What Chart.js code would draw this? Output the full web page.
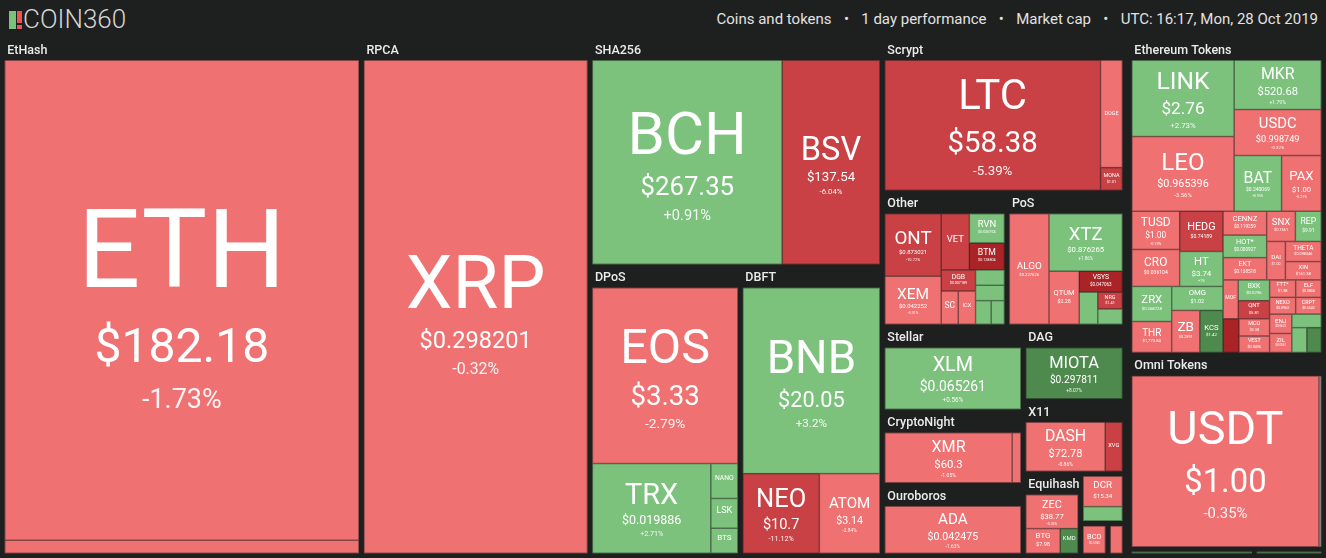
<!DOCTYPE html>
<html lang="en">
<head>
<meta charset="utf-8">
<title>COIN360 - Coins and tokens, 1 day performance</title>
<script src="https://cdn.jsdelivr.net/npm/chart.js@4.4.1/dist/chart.umd.min.js"></script>
<style>
  html, body { margin: 0; padding: 0; background: #1e1f1f; overflow: hidden; }
  body { width: 1326px; height: 558px; position: relative; font-family: Roboto, 'Noto Sans', sans-serif; }
  #topbar { position: absolute; left: 0; top: 0; width: 1326px; height: 37px; }
  .logo { position: absolute; left: 9px; top: 5px; font-size: 26px; font-weight: 300; color: #d4d4d4; line-height: 28px; white-space: nowrap; }
  .logo .bar { display: inline-block; width: 7px; height: 18px; background: #7cc27d; vertical-align: -1px; }
  .logo .bang { display: inline-block; width: 5px; height: 18px; margin: 0 1px 0 1px; vertical-align: -1px;
    background: linear-gradient(#ef5350 0, #ef5350 68%, transparent 68%, transparent 80%, #ef5350 80%); }
  .meta { position: absolute; right: 8px; top: 10px; font-size: 15px; line-height: 18px; color: #e2e2e2; white-space: nowrap; }
  .meta .sep { margin: 0 12.3px; }
  #wrap { position: absolute; left: 0; top: 37px; width: 1326px; height: 521px; }
</style>
</head>
<body>
<div id="topbar">
  <div class="logo"><span class="bar"></span><span class="bang"></span>COIN360</div>
  <div class="meta">Coins and tokens<span class="sep">•</span>1 day performance<span class="sep">•</span>Market cap<span class="sep">•</span>UTC: 16:17, Mon, 28 Oct 2019</div>
</div>
<div id="wrap"><canvas id="treemap" width="1326" height="521"></canvas></div>

<script>
// 数据: market cap in $M
const sectionNames = ['Coins', 'Tokens'];

const groupNames = ['EtHash', 'RPCA', 'SHA256', 'DPoS', 'DBFT', 'Scrypt', 'Other', 'PoS',
  'Stellar', 'CryptoNight', 'Ouroboros', 'DAG', 'X11', 'Equihash', 'Blake256', 'X13', 'Lyra2REv3',
  'Ethereum Tokens', 'Omni Tokens', 'TRON Tokens', 'Binance Chain Tokens'];
const groupSection = ['Coins', 'Coins', 'Coins', 'Coins', 'Coins', 'Coins', 'Coins', 'Coins',
  'Coins', 'Coins', 'Coins', 'Coins', 'Coins', 'Coins', 'Coins', 'Coins', 'Coins',
  'Tokens', 'Tokens', 'Tokens', 'Tokens'];

const coinSymbols = [
  'ETH', 'ETC',
  'XRP',
  'BCH', 'BSV',
  'EOS', 'TRX', 'NANO', 'LSK', 'BTS',
  'BNB', 'NEO', 'ATOM',
  'LTC', 'DOGE', 'MONA',
  'ONT', 'XEM', 'VET', 'RVN', 'BTM', 'DGB', 'SC', 'ICX', '', '', '', '',
  'ALGO', 'XTZ', 'QTUM', 'VSYS', 'WAVES', 'NRG', 'ARDR',
  'XLM',
  'XMR', 'BCN',
  'ADA',
  'MIOTA',
  'DASH', 'XVG',
  'ZEC', 'BTG', 'KMD',
  'DCR', '',
  'BCD',
  '',
  'LINK', 'LEO', 'MKR', 'USDC', 'BAT', 'PAX',
  'TUSD', 'CRO', 'HEDG', 'HT', 'ZRX', 'THR', 'OMG', 'ZB', 'KCS',
  'CENNZ', 'HOT*', 'EKT', 'SNX', 'REP', 'DAI', 'THETA', 'XIN',
  'MOF', 'BXK', 'QNT', 'IOST', 'MCO', 'VEST',
  'FTT*', 'NEXO', 'ELF', 'CRPT', 'ENJ', 'ZIL', '', '', '',
  'USDT', 'MAID',
  'BTT',
  ''
];

const coinGroup = [
  'EtHash', 'EtHash',
  'RPCA',
  'SHA256', 'SHA256',
  'DPoS', 'DPoS', 'DPoS', 'DPoS', 'DPoS',
  'DBFT', 'DBFT', 'DBFT',
  'Scrypt', 'Scrypt', 'Scrypt',
  'Other', 'Other', 'Other', 'Other', 'Other', 'Other', 'Other', 'Other', 'Other', 'Other', 'Other', 'Other',
  'PoS', 'PoS', 'PoS', 'PoS', 'PoS', 'PoS', 'PoS',
  'Stellar',
  'CryptoNight', 'CryptoNight',
  'Ouroboros',
  'DAG',
  'X11', 'X11',
  'Equihash', 'Equihash', 'Equihash',
  'Blake256', 'Blake256',
  'X13',
  'Lyra2REv3',
  'Ethereum Tokens', 'Ethereum Tokens', 'Ethereum Tokens', 'Ethereum Tokens', 'Ethereum Tokens', 'Ethereum Tokens',
  'Ethereum Tokens', 'Ethereum Tokens', 'Ethereum Tokens', 'Ethereum Tokens', 'Ethereum Tokens', 'Ethereum Tokens',
  'Ethereum Tokens', 'Ethereum Tokens', 'Ethereum Tokens',
  'Ethereum Tokens', 'Ethereum Tokens', 'Ethereum Tokens', 'Ethereum Tokens', 'Ethereum Tokens', 'Ethereum Tokens',
  'Ethereum Tokens', 'Ethereum Tokens',
  'Ethereum Tokens', 'Ethereum Tokens', 'Ethereum Tokens', 'Ethereum Tokens', 'Ethereum Tokens', 'Ethereum Tokens',
  'Ethereum Tokens', 'Ethereum Tokens', 'Ethereum Tokens', 'Ethereum Tokens', 'Ethereum Tokens', 'Ethereum Tokens',
  'Ethereum Tokens', 'Ethereum Tokens', 'Ethereum Tokens',
  'Omni Tokens', 'Omni Tokens',
  'TRON Tokens',
  'Binance Chain Tokens'
];

const coinCaps = [
  19706, 534,
  12875,
  4791, 2468,
  3140, 1305, 116, 99, 83,
  3133, 750, 593,
  3688, 308, 65,
  486, 373, 218, 141, 130, 100, 78, 79, 61, 61, 51, 43,
  605, 582, 222, 125, 82, 57, 52,
  1307,
  1058, 72,
  1085,
  825,
  660, 143,
  296, 142, 74,
  163, 77,
  96,
  60,
  962, 943, 529, 494, 326, 273,
  225, 218, 215, 187, 172, 152, 152, 146, 120,
  128, 121, 120, 107, 96, 89, 89, 81,
  73, 80, 70, 66, 65, 62,
  56, 54, 55, 53, 53, 52, 49, 46, 44,
  4150, 50,
  90,
  50
];

const coinPrices = [
  '$182.18', '$4.39',
  '$0.298201',
  '$267.35', '$137.54',
  '$3.33', '$0.019886', '$0.869812', '$0.824153', '$0.030489',
  '$20.05', '$10.7', '$3.14',
  '$58.38', '$0.002681', '$1.01',
  '$0.873021', '$0.042252', '$0.004512', '$0.026974', '$0.128804', '$0.007189', '$0.00186', '$0.1673', '', '', '', '',
  '$0.227626', '$0.876265', '$2.28', '$0.047063', '$0.9188', '$1.41', '$0.0462',
  '$0.065261',
  '$60.3', '$0.000383',
  '$0.042475',
  '$0.297811',
  '$72.78', '$0.004913',
  '$38.77', '$7.98', '$0.654',
  '$15.34', '',
  '$0.5183',
  '',
  '$2.76', '$0.965396', '$520.68', '$0.998749', '$0.240069', '$1.00',
  '$1.00', '$0.036104', '$0.74189', '$3.74', '$0.268728', '$1,773.84', '$1.02', '$0.2891', '$1.42',
  '$0.119259', '$0.000927', '$0.138518', '$0.7561', '$9.91', '$1.00', '$0.098346', '$161.38',
  '$0.0892', '$0.0296', '$5.81', '$0.005483', '$3.38', '$0.0496',
  '$1.38', '$0.0963', '$0.0804', '$0.6642', '$0.0622', '$0.0061', '', '', '',
  '$1.00', '$0.1106',
  '$0.000434',
  ''
];

// 1 day change, %
const coinChanges = [
  -1.73, -1.36,
  -0.32,
  0.91, -6.04,
  -2.79, 2.71, 1.42, 0.73, 1.3,
  3.2, -11.12, -2.84,
  -5.39, -1.45, -6.2,
  -10.72, -3.31, -6.8, 2.4, -15.6, -5.83, -2.1, -3.2, 1.2, 0.8, 2.1, 0.5,
  -2.85, 1.86, -1.9, -16.2, 0.6, -7.9, 1.1,
  0.56,
  -1.05, -1.9,
  -1.63,
  8.07,
  -0.86, -6.5,
  -0.26, -1.2, 6.1,
  -0.29, 1.4,
  -2.4,
  -1.8,
  2.73, -3.56, 1.79, -0.32, 0.95, -0.21,
  -0.13, -1.62, -6.05, 1, 1.25, -3.8, 1.05, -2.4, 5.6,
  -2.85, 1.63, -3.5, -2.2, 0.4, -0.5, -3.1, -1.7,
  -2.1, 2.3, -7.4, -17.2, -1.9, -2.6,
  -1.2, -1.9, -3.9, -3.6, -2.5, -1.4, 1.3, 2.2, 7.1,
  -0.35, 0,
  2.1,
  1.5
];

const SECTION_PAD = 2.25;
const GROUP_PAD = 2.5;
const HEADER_H = 21;
const LABEL_FONT = 12.5;

// 颜色按涨跌幅
function colorFor(chg) {
  if (chg === 0) return '#9e9e9e';
  if (chg >= 5) return '#4e8a4e';
  if (chg > 0) return '#7cc27d';
  if (chg > -5) return '#ef7172';
  if (chg > -15) return '#c94144';
  return '#a92327';
}

function formatChange(chg) {
  return (chg > 0 ? '+' : '') + chg + '%';
}

// 构建层级: section -> group -> coin
function buildTree() {
  const sections = sectionNames.map(name => ({ name: name, children: [], value: 0 }));
  const groups = groupNames.map((name, i) => ({
    name: name,
    section: sectionNames.indexOf(groupSection[i]),
    children: [],
    value: 0
  }));
  coinSymbols.forEach((sym, i) => {
    const g = groups[groupNames.indexOf(coinGroup[i])];
    g.children.push({ symbol: sym, value: coinCaps[i], price: coinPrices[i], change: coinChanges[i] });
    g.value += coinCaps[i];
  });
  groups.forEach(g => {
    sections[g.section].children.push(g);
    sections[g.section].value += g.value;
  });
  return sections;
}

// binary treemap tiling (same idea as d3.treemapBinary)
function tileBinary(nodes, x0, y0, x1, y1) {
  const n = nodes.length;
  if (!n) return;
  const sums = [0];
  for (let i = 0; i < n; i++) sums.push(sums[i] + nodes[i].value);

  function partition(i, j, value, x0, y0, x1, y1) {
    if (i >= j - 1) {
      const node = nodes[i];
      node.x0 = x0; node.y0 = y0; node.x1 = x1; node.y1 = y1;
      return;
    }
    const valueOffset = sums[i];
    const valueTarget = value / 2 + valueOffset;
    let k = i + 1, hi = j - 1;
    while (k < hi) {
      const mid = (k + hi) >>> 1;
      if (sums[mid] < valueTarget) k = mid + 1;
      else hi = mid;
    }
    if ((valueTarget - sums[k - 1]) < (sums[k] - valueTarget) && i + 1 < k) --k;
    const valueLeft = sums[k] - valueOffset;
    const valueRight = value - valueLeft;
    if ((x1 - x0) > (y1 - y0)) {
      const xk = value ? (x0 * valueRight + x1 * valueLeft) / value : x1;
      partition(i, k, valueLeft, x0, y0, xk, y1);
      partition(k, j, valueRight, xk, y0, x1, y1);
    } else {
      const yk = value ? (y0 * valueRight + y1 * valueLeft) / value : y1;
      partition(i, k, valueLeft, x0, y0, x1, yk);
      partition(k, j, valueRight, x0, yk, x1, y1);
    }
  }
  partition(0, n, sums[n], x0, y0, x1, y1);
}

function drawCellText(ctx, c) {
  if (!c.symbol) return;
  const w = c.x1 - c.x0, h = c.y1 - c.y0;
  const s = Math.min(0.79 * Math.pow(w * h, 0.41), w / c.symbol.length, h / 3.1);
  if (s < 5) return;
  const p = c.price ? Math.min(w / c.price.length * 0.95, s * 0.7) : 0;
  const q = (0.25 * s + 0.55 * p) / 2;
  const d1 = 1.3 * p + 0.12 * s;
  const d2 = 1.5 * q + 0.1 * p;
  const total = 0.72 * s + d1 + d2;
  const cx = (c.x0 + c.x1) / 2;
  const cy = (c.y0 + c.y1) / 2 + 0.015 * h;
  const symBase = cy - total / 2 + 0.72 * s;

  ctx.textAlign = 'center';
  ctx.textBaseline = 'alphabetic';
  ctx.fillStyle = '#ffffff';
  ctx.font = '400 ' + s.toFixed(2) + 'px Roboto';
  ctx.fillText(c.symbol, cx, symBase);
  if (p >= 3) {
    ctx.font = '400 ' + p.toFixed(2) + 'px Roboto';
    ctx.fillText(c.price, cx, symBase + d1);
  }
  if (q >= 3) {
    ctx.fillStyle = 'rgba(255,255,255,0.92)';
    ctx.font = '400 ' + q.toFixed(2) + 'px Roboto';
    ctx.fillText(formatChange(c.change), cx, symBase + d1 + d2);
  }
}

const treemapPlugin = {
  id: 'coinTreemap',
  afterDraw(chart) {
    const ctx = chart.ctx;
    const xs = chart.scales.x, ys = chart.scales.y;
    const left = Math.min(xs.getPixelForValue(0), xs.getPixelForValue(1));
    const right = Math.max(xs.getPixelForValue(0), xs.getPixelForValue(1));
    const top = Math.min(ys.getPixelForValue(0), ys.getPixelForValue(1));
    const bottom = Math.max(ys.getPixelForValue(0), ys.getPixelForValue(1));

    const sections = buildTree();
    tileBinary(sections, left, top, right, bottom);

    ctx.save();
    sections.forEach(sec => {
      tileBinary(sec.children, sec.x0 + SECTION_PAD, sec.y0 + SECTION_PAD, sec.x1 - SECTION_PAD, sec.y1 - SECTION_PAD);
      sec.children.forEach(g => {
        const gw = g.x1 - g.x0, gh = g.y1 - g.y0;
        ctx.font = '500 ' + LABEL_FONT + 'px Roboto';
        const tw = ctx.measureText(g.name).width;
        const fs = Math.min(LABEL_FONT, LABEL_FONT * (gw - 6) / tw);
        const showHeader = gh >= 40 && fs >= 10.5;

        if (showHeader) {
          ctx.font = '500 ' + fs.toFixed(2) + 'px Roboto';
          ctx.fillStyle = '#ececec';
          ctx.textAlign = 'left';
          ctx.textBaseline = 'alphabetic';
          ctx.fillText(g.name, g.x0 + 5, g.y0 + 14.5);
        }
        const iy0 = g.y0 + (showHeader ? HEADER_H : GROUP_PAD);
        tileBinary(g.children, g.x0 + GROUP_PAD, iy0, g.x1 - GROUP_PAD, g.y1 - GROUP_PAD);

        g.children.forEach(c => {
          ctx.fillStyle = colorFor(c.change);
          ctx.fillRect(c.x0, c.y0, c.x1 - c.x0, c.y1 - c.y0);
          ctx.strokeStyle = 'rgba(30,30,30,0.55)';
          ctx.lineWidth = 0.7;
          ctx.strokeRect(c.x0 + 0.35, c.y0 + 0.35, c.x1 - c.x0 - 0.7, c.y1 - c.y0 - 0.7);
        });
        g.children.forEach(c => drawCellText(ctx, c));
      });
    });
    ctx.restore();
  }
};

document.addEventListener('DOMContentLoaded', function() {
  const ctx = document.getElementById('treemap').getContext('2d');
  new Chart(ctx, {
    type: 'scatter',
    data: { datasets: [] },
    options: {
      responsive: false,
      animation: false,
      events: [],
      layout: { padding: 0 },
      plugins: {
        legend: { display: false },
        tooltip: { enabled: false }
      },
      scales: {
        x: { type: 'linear', min: 0, max: 1, display: false },
        y: { type: 'linear', min: 0, max: 1, reverse: true, display: false }
      }
    },
    plugins: [treemapPlugin]
  });
});
</script>
</body>
</html>
